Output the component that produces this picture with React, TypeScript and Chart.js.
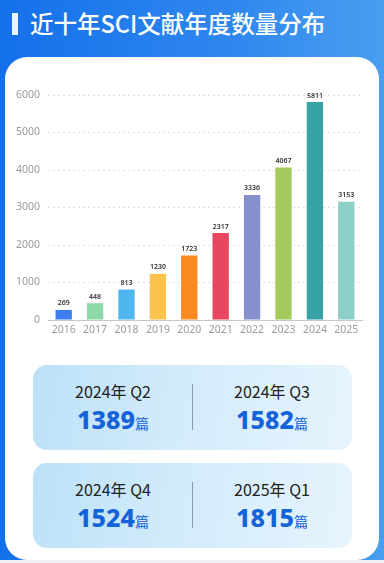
import React, { useEffect, useRef } from "react";
import { Chart, registerables } from "chart.js";

Chart.register(...registerables);

const years = ["2016", "2017", "2018", "2019", "2020", "2021", "2022", "2023", "2024", "2025"];
const counts = [269, 448, 813, 1230, 1723, 2317, 3336, 4067, 5811, 3153];
const barColors = [
  "#3f7ef0", "#8ed8a8", "#4fb6f0", "#fbc24c", "#fb8a20",
  "#e8485f", "#8590cc", "#a4c95c", "#37a3a5", "#8dcfc6",
];
const yTicks = [0, 1000, 2000, 3000, 4000, 5000, 6000];

const quarterLabels = ["2024年 Q2", "2024年 Q3", "2024年 Q4", "2025年 Q1"];
const quarterValues = [1389, 1582, 1524, 1815];
const unit = "篇";

const title = "近十年SCI文献年度数量分布";

const valueLabelPlugin = {
  id: "valueLabels",
  afterDatasetsDraw(chart: any) {
    const ctx = chart.ctx;
    const meta = chart.getDatasetMeta(0);
    ctx.save();
    ctx.font = "600 7px 'Noto Sans', sans-serif";
    ctx.fillStyle = "#333";
    ctx.textAlign = "center";
    ctx.textBaseline = "bottom";
    meta.data.forEach((bar: any, i: number) => {
      ctx.fillText(String(chart.data.datasets[0].data[i]), bar.x, bar.y - 3);
    });
    ctx.restore();
  },
};

function BarChart() {
  const ref = useRef<HTMLCanvasElement | null>(null);
  useEffect(() => {
    if (!ref.current) return;
    const chart = new Chart(ref.current, {
      type: "bar",
      data: {
        labels: years,
        datasets: [
          {
            data: counts,
            backgroundColor: barColors,
            borderWidth: 0,
            categoryPercentage: 1,
            barPercentage: 0.52,
          },
        ],
      },
      options: {
        animation: false,
        responsive: true,
        maintainAspectRatio: false,
        layout: { padding: { left: 0, right: 22, top: 15, bottom: 8 } },
        plugins: { legend: { display: false }, tooltip: { enabled: false } },
        scales: {
          x: {
            grid: { display: false, drawTicks: false },
            border: { display: true, color: "#c8c8c8", width: 1 },
            ticks: {
              color: "#9a9a9a",
              font: { size: 10.5, family: "'Noto Sans', sans-serif" },
              padding: 4,
            },
            afterFit: (s: any) => {
              s.height = 22;
            },
          },
          y: {
            min: 0,
            max: 6000,
            afterBuildTicks: (s: any) => {
              s.ticks = yTicks.map((v) => ({ value: v }));
            },
            grid: {
              color: (c: any) => (c.tick && c.tick.value === 0 ? "rgba(0,0,0,0)" : "#dedede"),
              drawTicks: false,
            },
            border: { display: false, dash: [2, 3] },
            ticks: {
              color: "#9a9a9a",
              font: { size: 10.5, family: "'Noto Sans', sans-serif" },
              padding: 8,
              callback: (v: any) => String(v),
            },
            afterFit: (s: any) => {
              s.width = 48;
            },
          },
        },
      },
      plugins: [valueLabelPlugin],
    });
    return () => chart.destroy();
  }, []);
  return <canvas ref={ref} />;
}

function StatBox({ top, idx }: { top: number; idx: number }) {
  const cell = (i: number) => (
    <div
      style={{
        position: "absolute",
        left: i === idx ? 0 : 159,
        top: 0,
        width: 160,
        height: 85,
        textAlign: "center",
      }}
    >
      <div
        style={{
          position: "absolute",
          top: 16,
          left: 0,
          width: "100%",
          fontSize: 16,
          color: "#222",
          lineHeight: "20px",
          fontFamily: "'Noto Sans CJK SC', 'Noto Sans', sans-serif",
        }}
      >
        {quarterLabels[i]}
      </div>
      <div
        style={{
          position: "absolute",
          top: 38,
          left: 0,
          width: "100%",
          lineHeight: "32px",
          color: "#1463d8",
          fontFamily: "'Noto Sans', 'Noto Sans CJK SC', sans-serif",
        }}
      >
        <span style={{ fontSize: 25, fontWeight: 800 }}>{quarterValues[i]}</span>
        <span style={{ fontSize: 14, fontFamily: "'Noto Sans CJK SC', sans-serif" }}>{unit}</span>
      </div>
    </div>
  );
  return (
    <div
      style={{
        position: "absolute",
        left: 33,
        top,
        width: 319,
        height: 85,
        borderRadius: 14,
        background: "linear-gradient(100deg, #bde1f8 0%, #d4ecfb 50%, #e6f4fd 100%)",
      }}
    >
      {cell(idx)}
      {cell(idx + 1)}
      <div
        style={{
          position: "absolute",
          left: 159,
          top: 19,
          width: 1,
          height: 46,
          background: "#8a9aa8",
        }}
      />
    </div>
  );
}

export default function App() {
  useEffect(() => {
    document.body.style.margin = "0";
  }, []);
  return (
    <div
      style={{
        position: "relative",
        width: 384,
        height: 563,
        overflow: "hidden",
        background: "linear-gradient(90deg, #1470ea 0%, #2f87ee 60%, #4a9ef0 100%)",
        fontFamily: "'Noto Sans CJK SC', 'Noto Sans', sans-serif",
      }}
    >
      <div
        style={{
          position: "absolute",
          left: 12,
          top: 13,
          width: 6,
          height: 22,
          background: "rgba(255,255,255,0.92)",
        }}
      />
      <div
        style={{
          position: "absolute",
          left: 30,
          top: 7,
          fontSize: 23.5,
          fontWeight: 500,
          color: "#fff",
          lineHeight: "32px",
          whiteSpace: "nowrap",
        }}
      >
        {title}
      </div>
      <div
        style={{
          position: "absolute",
          left: 0,
          top: 560,
          width: 384,
          height: 3,
          background: "#eef0f3",
        }}
      />
      <div
        style={{
          position: "absolute",
          left: 5,
          top: 57,
          width: 374,
          height: 503,
          borderRadius: 22,
          background: "#fff",
        }}
      />
      <div style={{ position: "absolute", left: 0, top: 80, width: 384, height: 270 }}>
        <BarChart />
      </div>
      <StatBox top={365} idx={0} />
      <StatBox top={463} idx={2} />
    </div>
  );
}
